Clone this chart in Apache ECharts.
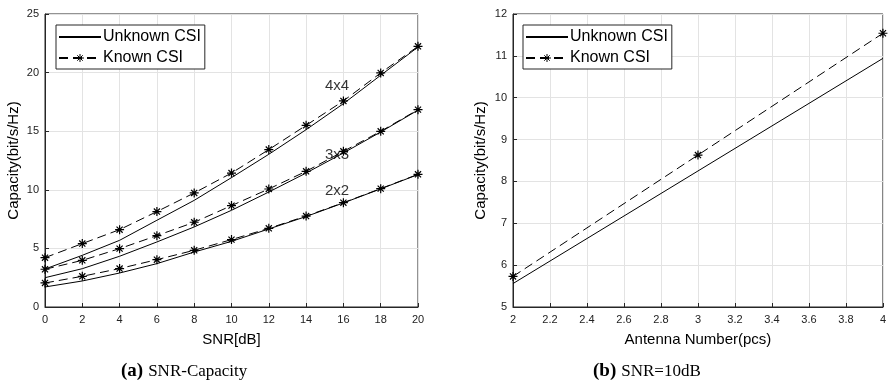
<!DOCTYPE html>
<html><head><meta charset="utf-8">
<script src="https://cdn.jsdelivr.net/npm/echarts@6/dist/echarts.min.js"></script>
<style>html,body{margin:0;padding:0;background:#fff}#c{width:889px;height:386px}</style>
</head><body><div id="c"></div>
<script>
// ---- data ----
const snr = [0, 2, 4, 6, 8, 10, 12, 14, 16, 18, 20];
const known4 = [4.21, 5.41, 6.6, 8.14, 9.73, 11.43, 13.43, 15.5, 17.58, 19.97, 22.24];
const unknown4 = [3.24, 4.41, 5.69, 7.4, 9.1, 11.04, 13.03, 15.13, 17.35, 19.77, 22.18];
const known3 = [3.22, 3.98, 4.98, 6.09, 7.23, 8.65, 10.07, 11.58, 13.28, 14.99, 16.84];
const unknown3 = [2.5, 3.27, 4.33, 5.55, 6.83, 8.25, 9.81, 11.43, 13.14, 14.93, 16.8];
const known2 = [2.05, 2.62, 3.28, 4.04, 4.84, 5.75, 6.71, 7.76, 8.9, 10.1, 11.32];
const unknown2 = [1.71, 2.22, 2.9, 3.7, 4.69, 5.6, 6.66, 7.72, 8.88, 10.08, 11.3];
const antennas = [2, 3, 4];
const knownAnt = [5.73, 8.63, 11.54];
const unknownAnt = [5.56, 8.25, 10.94];
const curveLabels = ['4x4', '3x3', '2x2'];
const curveLabelPos = [[15.66, 18.83], [15.66, 12.94], [15.66, 9.9]];
const names = ['Unknown CSI', 'Known CSI'];

// ---- styling ----
const FONT = '"Liberation Sans", Arial, Helvetica, sans-serif';
const SERIF = '"Liberation Serif", "DejaVu Serif", serif';
const AX = '#262626';
const GRIDC = '#e3e3e3';
const STAR = 'path://M5 0L5 10M0 5L10 5M1.6 1.6L8.4 8.4M8.4 1.6L1.6 8.4';

function zip(x, y) { return x.map((v, i) => [v, y[i]]); }

function valAxis(idx, min, max, interval, name, gap, isX) {
  return {
    type: 'value', gridIndex: idx, min, max, interval,
    name, nameLocation: 'middle', nameGap: gap,
    nameTextStyle: { fontFamily: FONT, fontSize: 15, color: '#000' },
    axisLine: { onZero: false, lineStyle: { color: AX, width: 1 } },
    axisTick: { inside: true, length: 4, lineStyle: { color: AX } },
    axisLabel: { fontFamily: FONT, fontSize: 11, color: '#222', margin: isX ? 7 : 6 },
    splitLine: { show: true, lineStyle: { color: GRIDC, width: 1 } }
  };
}

function unknownSeries(xi, yi, x, y) {
  return { name: names[0], type: 'line', xAxisIndex: xi, yAxisIndex: yi, data: zip(x, y),
    symbol: 'none', lineStyle: { color: '#000', width: 1 }, itemStyle: { color: '#000' },
    silent: true, animation: false, z: 3 };
}
function knownSeries(xi, yi, x, y) {
  return { name: names[1], type: 'line', xAxisIndex: xi, yAxisIndex: yi, data: zip(x, y),
    symbol: STAR, symbolSize: 9, showSymbol: true,
    lineStyle: { color: '#000', width: 1, type: [9, 5] },
    itemStyle: { color: 'rgba(0,0,0,0)', borderColor: '#000', borderWidth: 1.2 },
    silent: true, animation: false, z: 4 };
}

const leftPairs = [[unknown4, known4], [unknown3, known3], [unknown2, known2]];
const series = [];
leftPairs.forEach(p => { series.push(unknownSeries(0, 0, snr, p[0])); series.push(knownSeries(0, 0, snr, p[1])); });
series.push(unknownSeries(1, 1, antennas, unknownAnt));
series.push(knownSeries(1, 1, antennas, knownAnt));
// curve labels
series.push({
  type: 'scatter', xAxisIndex: 0, yAxisIndex: 0, symbolSize: 0, silent: true, animation: false,
  data: curveLabelPos.map((p, i) => ({ value: p, label: { formatter: curveLabels[i] } })),
  label: { show: true, position: 'inside', fontFamily: FONT, fontSize: 15, color: '#000' }
});

function legend(left) {
  return {
    data: [
      { name: names[0], itemStyle: { color: 'rgba(0,0,0,0)', borderColor: 'rgba(0,0,0,0)', borderWidth: 0 } },
      { name: names[1], itemStyle: { color: 'rgba(0,0,0,0)', borderColor: '#000', borderWidth: 1 } }
    ],
    orient: 'vertical', left, top: 25, itemWidth: 42, itemHeight: 10, itemGap: 5,
    padding: [4, 4, 3, 2], borderColor: '#262626', borderWidth: 1, backgroundColor: '#fff',
    textStyle: { fontFamily: FONT, fontSize: 16, color: '#000', padding: [0, 0, 0, -3] },
    selectedMode: false
  };
}

const captionRich = {
  a: { fontFamily: SERIF, fontWeight: 'bold', fontSize: 19, color: '#000' },
  b: { fontFamily: SERIF, fontWeight: 'normal', fontSize: 17, color: '#000' }
};

const chart = echarts.init(document.getElementById('c'), null, { renderer: 'canvas' });
chart.setOption({
  backgroundColor: '#fff',
  animation: false,
  grid: [
    { left: 45, right: 471, top: 14, bottom: 79, show: true, borderColor: AX, borderWidth: 1, backgroundColor: 'transparent' },
    { left: 513, right: 4, top: 14, bottom: 79, show: true, borderColor: AX, borderWidth: 1, backgroundColor: 'transparent' }
  ],
  xAxis: [
    valAxis(0, 0, 20, 2, 'SNR[dB]', 25, true),
    valAxis(1, 2, 4, 0.2, 'Antenna Number(pcs)', 25, true)
  ],
  yAxis: [
    valAxis(0, 0, 25, 5, 'Capacity(bit/s/Hz)', 24, false),
    valAxis(1, 5, 12, 1, 'Capacity(bit/s/Hz)', 25, false)
  ],
  legend: [legend(56), legend(523)],
  title: [
    { left: 116, top: 357, text: '{a|(a)} {b|SNR-Capacity}', textStyle: { fontWeight: 'normal', rich: captionRich } },
    { left: 588, top: 357, text: '{a|(b)} {b|SNR=10dB}', textStyle: { fontWeight: 'normal', rich: captionRich } }
  ],
  series
});
</script></body></html>
